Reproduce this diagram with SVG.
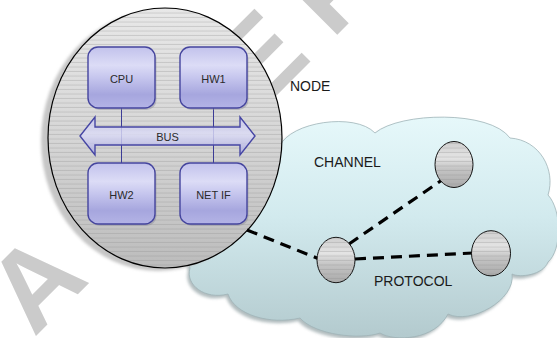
<svg xmlns="http://www.w3.org/2000/svg" width="557" height="338" viewBox="0 0 557 338">
  <style>
    .lbl { font-family: "Liberation Sans", Arial, sans-serif; font-size: 14px; fill: #1a1a1a; }
    .blbl { font-family: "Liberation Sans", Arial, sans-serif; font-size: 11px; fill: #2a2a2a; text-anchor: middle; }
    .box { fill: url(#boxGrad); stroke: #45459e; stroke-width: 1.4; }
    .boxShadow { fill: #8a8a9a; opacity: 0.45; }
    .bus-wire { stroke: #3c3c96; stroke-width: 1; fill: none; }
    .hub { fill: url(#hubGrad); stroke: #111; stroke-width: 1; }
    .stripe { fill: url(#stripes); stroke: none; }
    .link { stroke: #000; stroke-width: 3.2; stroke-dasharray: 11 7; fill: none; }
    .mark { font-family: "Liberation Sans", Arial, sans-serif; font-weight: bold; font-size: 112px; fill: #cbcbcb; letter-spacing: 26px; }
  </style>
  <defs>
    <linearGradient id="nodeGrad" x1="0" y1="0" x2="0" y2="1">
      <stop offset="0" stop-color="#e8e8e8"/>
      <stop offset="0.5" stop-color="#d6d6d6"/>
      <stop offset="1" stop-color="#bcbcbc"/>
    </linearGradient>
    <linearGradient id="hubGrad" x1="0" y1="0" x2="0" y2="1">
      <stop offset="0" stop-color="#cfcfcf"/>
      <stop offset="0.35" stop-color="#e4e4e4"/>
      <stop offset="0.6" stop-color="#c4c4c4"/>
      <stop offset="1" stop-color="#aaaaaa"/>
    </linearGradient>
    <linearGradient id="boxGrad" x1="0" y1="0" x2="0" y2="1">
      <stop offset="0" stop-color="#c2c2ec"/>
      <stop offset="0.3" stop-color="#dcdcf6"/>
      <stop offset="0.5" stop-color="#c6c6ee"/>
      <stop offset="0.78" stop-color="#a6a6de"/>
      <stop offset="1" stop-color="#b4b4e6"/>
    </linearGradient>
    <linearGradient id="busGrad" x1="0" y1="0" x2="0" y2="1">
      <stop offset="0" stop-color="#c6c6ee"/>
      <stop offset="0.45" stop-color="#dcdcf6"/>
      <stop offset="1" stop-color="#a8a8de"/>
    </linearGradient>
    <linearGradient id="cloudGrad" x1="0" y1="0" x2="0" y2="1">
      <stop offset="0" stop-color="#e6f8fa"/>
      <stop offset="0.45" stop-color="#d2eaee"/>
      <stop offset="1" stop-color="#b3cace"/>
    </linearGradient>
    <pattern id="stripes" width="10" height="4.5" patternUnits="userSpaceOnUse">
      <line x1="0" y1="4" x2="10" y2="4" stroke="#8c8c8c" stroke-width="0.8" opacity="0.4"/>
    </pattern>
    <filter id="soft" x="-20%" y="-20%" width="140%" height="140%">
      <feGaussianBlur stdDeviation="1.8"/>
    </filter>
    <path id="cloudShape" d="M 280,146 C 290,122 355,112 375,133 C 400,112 490,110 510,138 C 540,140 556,170 548,195 C 562,210 562,250 548,262 C 543,275 520,278 512,274 C 516,300 470,325 448,314 C 435,340 395,342 380,333 C 360,340 315,335 300,318 C 270,325 235,315 228,294 C 205,300 185,285 190,268 C 180,240 230,170 280,146 Z"/>
  </defs>

  <!-- background watermark -->
  <text class="mark" x="0" y="0" transform="translate(34,338) rotate(-45)">ACCEPTED</text>

  <!-- network channel (cloud) -->
  <g id="channel">
    <use href="#cloudShape" transform="translate(-2,3)" fill="#7f9194" opacity="0.6" filter="url(#soft)"/>
    <use href="#cloudShape" fill="url(#cloudGrad)" stroke="#9fb4b8" stroke-width="0.8"/>
    <text class="lbl" x="314" y="166.5">CHANNEL</text>
    <text class="lbl" x="374" y="285.5">PROTOCOL</text>
  </g>

  <!-- node body -->
  <g id="node">
    <ellipse cx="158" cy="141" rx="117" ry="130" fill="#c6c6c6" filter="url(#soft)"/>
    <ellipse cx="165" cy="138" rx="117" ry="130" fill="url(#nodeGrad)"/>
    <ellipse cx="165" cy="138" rx="117" ry="130" class="stripe"/>
    <ellipse cx="165" cy="138" rx="117" ry="130" fill="none" stroke="#000" stroke-width="1.2"/>
    <text class="lbl" x="290" y="90.5">NODE</text>
  </g>

  <!-- internal wiring between the components -->
  <g id="wires">
    <line class="bus-wire" x1="121.5" y1="108" x2="121.5" y2="163"/>
    <line class="bus-wire" x1="213.5" y1="108" x2="213.5" y2="163"/>
  </g>

  <g id="bus">
    <polygon points="80,136 95,117 95,127 240,127 240,117 255,136 240,155 240,145 95,145 95,155" fill="url(#busGrad)" fill-opacity="0.82" stroke="#4646a4" stroke-width="1.4" stroke-linejoin="miter"/>
    <text class="blbl" x="167.5" y="140.5">BUS</text>
  </g>

  <g id="cpu">
    <rect class="boxShadow" x="89.5" y="49" width="67" height="61" rx="10"/>
    <rect class="box" x="88" y="47" width="67" height="61" rx="10"/>
    <text class="blbl" x="121.5" y="82.5">CPU</text>
  </g>
  <g id="hw1">
    <rect class="boxShadow" x="181.5" y="49" width="67" height="61" rx="10"/>
    <rect class="box" x="180" y="47" width="67" height="61" rx="10"/>
    <text class="blbl" x="213.5" y="82.5">HW1</text>
  </g>
  <g id="hw2">
    <rect class="boxShadow" x="89.5" y="165" width="67" height="61" rx="10"/>
    <rect class="box" x="88" y="163" width="67" height="61" rx="10"/>
    <text class="blbl" x="121.5" y="199">HW2</text>
  </g>
  <g id="netif">
    <rect class="boxShadow" x="181.5" y="165" width="67" height="61" rx="10"/>
    <rect class="box" x="180" y="163" width="67" height="61" rx="10"/>
    <text class="blbl" x="213.5" y="199">NET IF</text>
  </g>

  <!-- protocol links -->
  <g id="connectors">
    <line class="link" x1="247" y1="230" x2="318" y2="258.5"/>
    <line class="link" x1="349" y1="244" x2="442" y2="180"/>
    <line class="link" x1="355" y1="259" x2="473" y2="253"/>
  </g>

  <!-- peer nodes in the channel -->
  <g id="peer1">
    <ellipse class="hub" cx="336" cy="260" rx="19" ry="22.7"/>
    <ellipse class="stripe" cx="336" cy="260" rx="19" ry="22.7"/>
  </g>
  <g id="peer2">
    <ellipse class="hub" cx="454" cy="164.5" rx="19" ry="23"/>
    <ellipse class="stripe" cx="454" cy="164.5" rx="19" ry="23"/>
  </g>
  <g id="peer3">
    <ellipse class="hub" cx="491" cy="253.3" rx="19.5" ry="22.6"/>
    <ellipse class="stripe" cx="491" cy="253.3" rx="19.5" ry="22.6"/>
  </g>
</svg>
